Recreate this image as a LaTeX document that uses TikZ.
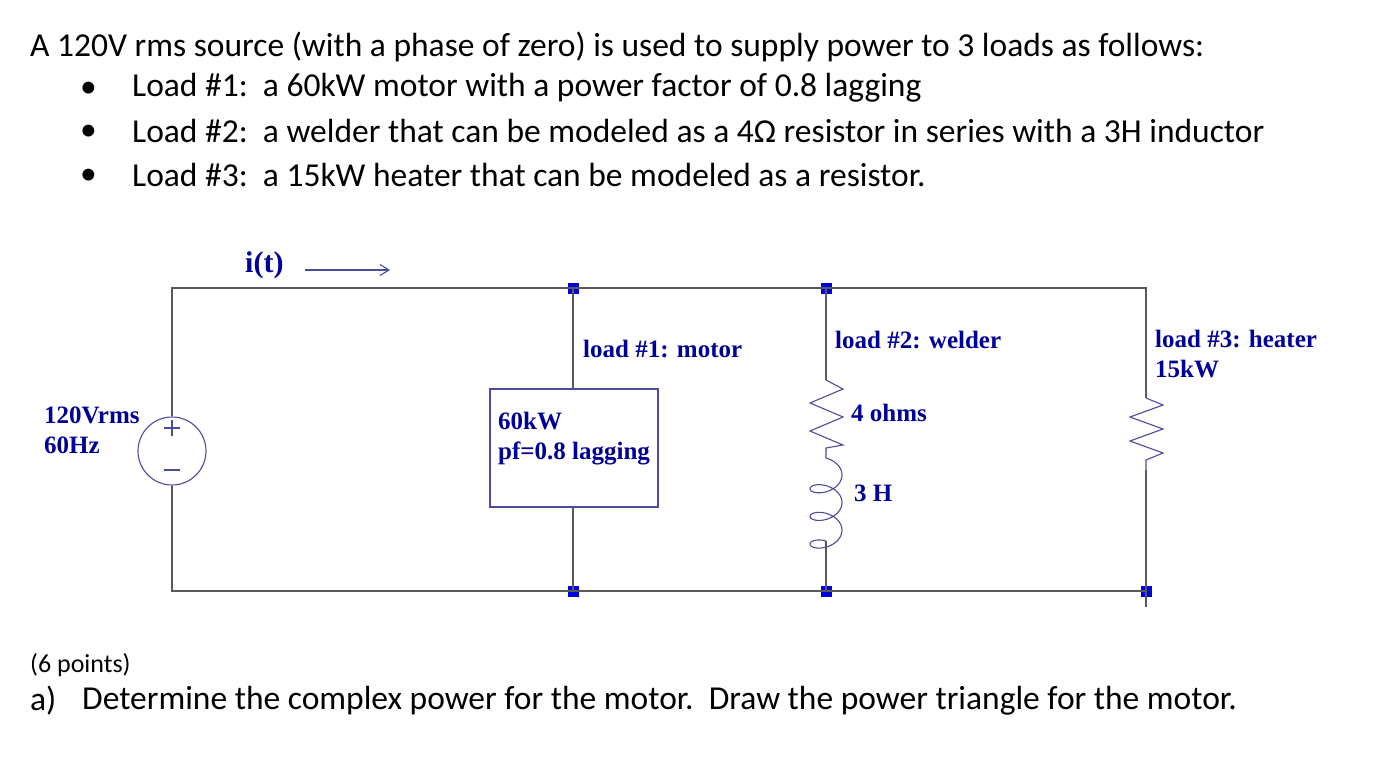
\documentclass[tikz,border=0pt]{standalone}
\usepackage{fontspec}
\setmainfont{Carlito}
\newfontfamily\tms{Liberation Serif}
\usetikzlibrary{arrows.meta}
\begin{document}
\begin{tikzpicture}[x=1pt,y=-1pt,
  wire/.style={draw=black!65,line width=1.1pt},
  comp/.style={draw=blue!45!black!70,line width=1.1pt},
  lbl/.style={font=\tms\bfseries\fontsize{25}{30}\selectfont,text=blue!60!black,inner sep=0pt,anchor=west,align=left},
  txt/.style={font=\fontsize{33.5}{38}\selectfont,inner sep=0pt,anchor=west},
  dot/.style={fill=blue!90!black,minimum size=11pt,inner sep=0pt,draw=none,rectangle}]
\useasboundingbox (0,0) rectangle (1394,765);
\node[txt] (t0) at (30,47) {A 120V rms source (with a phase of zero) is used to supply power to 3 loads as follows:};
\node[txt] (b1) at (80,90) {\textbullet}; \node[txt] (t1) at (132,88) {Load \#1:\ \ a 60kW motor with a power factor of 0.8 lagging};
\node[txt] (b2) at (80,133) {\textbullet}; \node[txt] (t2) at (132,131) {Load \#2:\ \ a welder that can be modeled as a 4Ω resistor in series with a 3H inductor};
\node[txt] (b3) at (80,177) {\textbullet}; \node[txt] (t3) at (132,175) {Load \#3:\ \ a 15kW heater that can be modeled as a resistor.};
\node[txt,font=\fontsize{26}{30}\selectfont] (t4) at (30,665) {(6 points)};
\node[txt] (t5a) at (30,701) {a)};
\node[txt] (t5) at (82,701) {Determine the complex power for the motor.\ \ Draw the power triangle for the motor.};
% coordinates
\coordinate (TL) at (172,288); \coordinate (BL) at (172,591);
\coordinate (TR) at (1146,288); \coordinate (BR) at (1146,591); \coordinate (BRe) at (1146,607);
\node[dot] (n1t) at (573,288) {}; \node[dot] (n1b) at (573,591) {};
\node[dot] (n2t) at (826,288) {}; \node[dot] (n2b) at (826,591) {};
\node[dot] (n3b) at (1146,591) {};
% source
\node[circle,comp,minimum size=68pt,inner sep=0pt] (src) at (172,451) {};
\draw[comp] (164,428) -- (180,428) (172,420) -- (172,436) (164,470) -- (180,470);
\draw[wire] (src.north) -- (TL) -- (n1t.center) -- (n2t.center) -- (TR) -- (1146,398);
\draw[wire] (src.south) -- (BL) -- (n1b.center) -- (n2b.center) -- (BR) -- (BRe);
% load 1
\node[draw=blue!45!black!70,line width=1.1pt,minimum width=168pt,minimum height=118pt,inner sep=0pt] (box) at (574,448) {};
\draw[wire] (n1t.center) -- (box.north -| n1t) (box.south -| n1t) -- (n1b.center);
% load 2
\draw[wire] (n2t.center) -- (826,380);
\draw[comp] (826,380) -- (843,389) -- (810,403) -- (843,417) -- (810,431) -- (843,445) -- (826,448) -- (826,458);
\draw[comp] plot[domain=0:18.85,samples=150,smooth,variable=\t] ({826+16*sin(\t r)},{458+4.4*\t-10*cos(\t r)+10});
\draw[wire] (826,541) -- (n2b.center);
% load 3
\draw[comp] (1146,398) -- (1163,405) -- (1130,417) -- (1163,429) -- (1130,441) -- (1163,453) -- (1146,460) -- (1146,470);
\draw[wire] (1146,470) -- (BR);
% arrow
\coordinate (a1) at (305,270); \coordinate (a2) at (390,270);
\draw[blue!45!black!70,line width=1.1pt,-{Straight Barb[length=9pt,width=11pt]}] (a1) -- (a2);
% labels
\node[lbl,font=\tms\bfseries\fontsize{30}{34}\selectfont] (it) at (245,265) {i(t)};
\node[lbl] (l1) at (583,349) {load \#1: motor};
\node[lbl] (l2) at (835,340) {load \#2: welder};
\node[lbl,align=left] (l3) at (1155,354) {load \#3: heater\\15kW};
\node[lbl] (s) at (44,430) {120Vrms\\60Hz};
\node[lbl] (m) at (498,439) {60kW\\pf=0.8 lagging};
\node[lbl] (r2) at (851,413) {4 ohms};
\node[lbl] (i2) at (854,493) {3 H};
\end{tikzpicture}
\end{document}
